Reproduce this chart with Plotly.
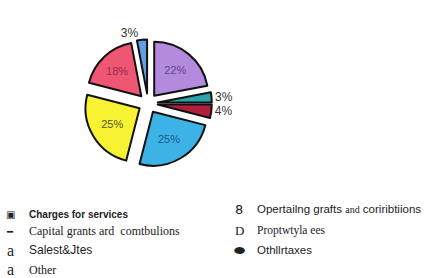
import plotly.graph_objects as go

# Pie data (clockwise from 12 o'clock)
slice_names = ["Operating grants", "Other taxes", "Other", "Capital grants",
               "Sales taxes", "Charges for services", "Property taxes"]
slice_values = [22, 3, 4, 25, 25, 18, 3]
slice_colors = ["#b48ade", "#2aa4ac", "#b21f3e", "#3cb2e6", "#f7f232", "#ee5674", "#629ee2"]
slice_text = ["22%", "3%", "4%", "25%", "25%", "18%", "3%"]
text_pos = ["inside", "outside", "outside", "inside", "inside", "inside", "outside"]
text_colors = ["#5e4596", "#333333", "#333333", "#1d5a8c", "#55552a", "#9a2c4c", "#333333"]

# Legend (as printed)
legend_left_marks = ["▣", "━", "a", "a"]
legend_left_labels = ["Charges for services", "Capital grants ard  comtbulions", "Salest&Jtes", "Other"]
legend_left_fonts = ["Liberation Sans", "Liberation Serif", "Liberation Sans", "Liberation Serif"]
legend_right_marks = ["8", "D", "⬬"]
legend_right_labels = ["Opertailng grafts <span style='font-family:Liberation Serif;font-size:10px'>and</span> coriribtiions",
                       "Proptwtyla ees", "Othllrtaxes"]
legend_right_fonts = ["Liberation Sans", "Liberation Serif", "Liberation Sans"]

W, H = 425, 278

fig = go.Figure(go.Pie(
    labels=slice_names, values=slice_values, sort=False, direction="clockwise",
    rotation=0,
    marker=dict(colors=slice_colors, line=dict(color="#111111", width=2)),
    pull=[0.18] * len(slice_values),
    text=slice_text, textinfo="text", textposition=text_pos,
    insidetextfont=dict(color=text_colors, size=11, family="Liberation Sans"),
    outsidetextfont=dict(color="#333333", size=12, family="Liberation Sans"),
    insidetextorientation="horizontal",
    showlegend=False, hoverinfo="skip",
    domain=dict(x=[81 / W, 215 / W], y=[1 - 159 / H, 1 - 22 / H]),
))

ann = []
left_y = [210, 228, 248, 269]
for i, (m, t, f, y) in enumerate(zip(legend_left_marks, legend_left_labels, legend_left_fonts, left_y)):
    mfont = "Liberation Serif" if m == "a" else "DejaVu Sans"
    ann.append(dict(x=10 / W, y=1 - y / H, xref="paper", yref="paper", text=m, showarrow=False,
                    xanchor="center", yanchor="middle",
                    font=dict(size=16 if m == "a" else 10, color="#222222", family=mfont)))
    txt = "<b>" + t + "</b>" if i == 0 else t
    ann.append(dict(x=27 / W, y=1 - y / H, xref="paper", yref="paper", text=txt, showarrow=False,
                    xanchor="left", yanchor="middle",
                    font=dict(size=10 if i == 0 else 12, color="#222222", family=f)))

right_y = [204, 227, 248]
for m, t, f, y in zip(legend_right_marks, legend_right_labels, legend_right_fonts, right_y):
    mfont = "Liberation Serif" if m == "D" else "DejaVu Sans"
    ann.append(dict(x=239 / W, y=1 - y / H, xref="paper", yref="paper", text=m, showarrow=False,
                    xanchor="center", yanchor="middle",
                    font=dict(size=13, color="#222222", family=mfont)))
    ann.append(dict(x=255 / W, y=1 - y / H, xref="paper", yref="paper", text=t, showarrow=False,
                    xanchor="left", yanchor="middle",
                    font=dict(size=11.5, color="#222222", family=f)))

fig.update_layout(
    width=W, height=H, margin=dict(l=0, r=0, t=0, b=0),
    paper_bgcolor="white", plot_bgcolor="white",
    annotations=ann,
)
fig.write_html("out.html", config={"displayModeBar": False},
               post_script="document.body.style.margin='0';")
